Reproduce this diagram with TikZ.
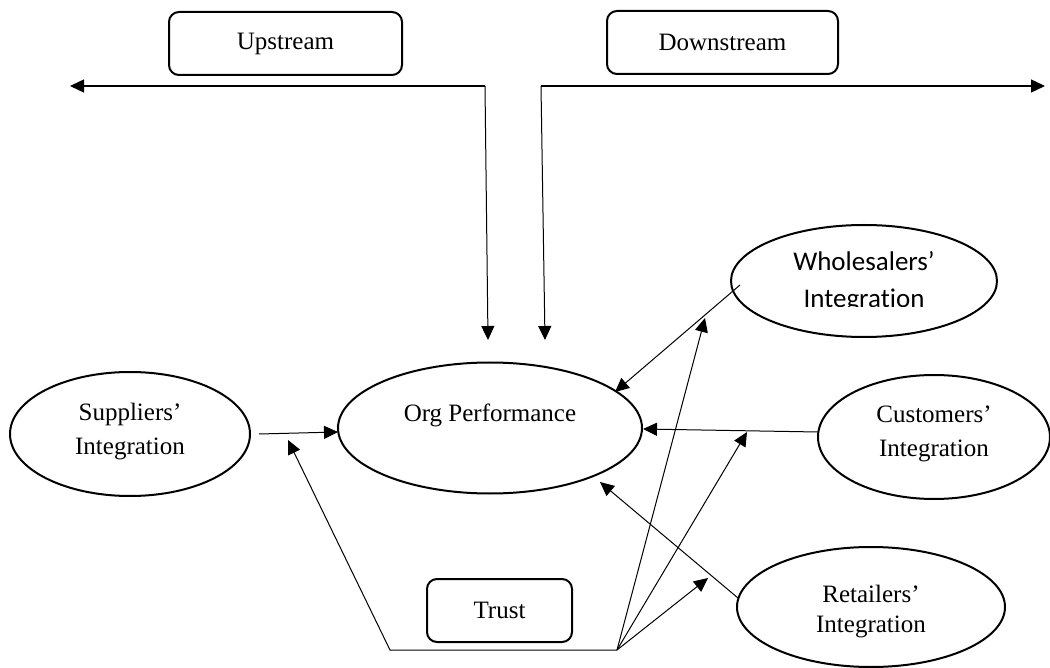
\documentclass[tikz,border=0pt]{standalone}
\usepackage{fontspec}
\setmainfont{Liberation Serif}
\newfontfamily\calfont[Ligatures={NoCommon}]{Carlito}
\usetikzlibrary{shapes.geometric,arrows.meta}
\begin{document}
\begin{tikzpicture}[x=1pt,y=-1pt,
  ell/.style={draw, ellipse, line width=2pt, inner sep=0pt},
  lbl/.style={align=center, font=\fontsize{25}{34}\selectfont, inner sep=0pt},
  rbox/.style={draw, rounded corners=10pt, line width=2pt, minimum height=63pt, font=\fontsize{25}{30}\selectfont},
  con/.style={line width=1pt},
  tip/.tip={Triangle[length=14pt,width=13pt]},
  arr/.style={con, -tip}]
\useasboundingbox (0,0) rectangle (1050,668);

% boxes
\node[rbox, minimum width=233pt] (up) at (285.5,43.5) {Upstream};
\node[rbox, minimum width=231pt] (down) at (722.5,42.5) {Downstream};
\node[rbox, minimum width=145pt] (trust) at (499.5,610.5) {Trust};

% ellipses
\node[ell, minimum width=240pt, minimum height=124pt] (sup) at (130,434) {};
\node[ell, minimum width=304pt, minimum height=131pt] (org) at (490,428) {};
\node[ell, minimum width=266pt, minimum height=112pt] (whole) at (864,281) {};
\node[ell, minimum width=232pt, minimum height=124pt] (cust) at (934,437) {};
\node[ell, minimum width=268pt, minimum height=120pt] (ret) at (871,607) {};

% labels
\node[lbl] (supt) at (130,432) {Suppliers'\\Integration};
\node[lbl] (orgt) at (490,415) {Org Performance};
\begin{scope}
  \clip (700,220) rectangle (1000,307);
  \node[lbl, font=\calfont\fontsize{27}{37}\selectfont] (wholet) at (864,282) {Wholesalers’\\Integration};
\end{scope}
\node[lbl] (custt) at (934,434) {Customers'\\Integration};
\node[lbl, font=\fontsize{25}{30}\selectfont] (rett) at (871,612) {Retailers'\\Integration};

% upstream / downstream
\coordinate (upL) at (70,86);
\coordinate (upC) at (485,86);
\coordinate (upB) at (488,340);
\coordinate (dnR) at (1045,86);
\coordinate (dnC) at (541,86);
\coordinate (dnB) at (545,340);
\draw[con, line width=1.4pt, tip-] (upL) -- (upC);
\draw[arr] (upC) -- (upB);
\draw[con, line width=1.4pt, -tip] (dnC) -- (dnR);
\draw[arr] (dnC) -- (dnB);

% into Org Performance
\coordinate (supS) at (259,434);
\coordinate (orgW) at (338,432);
\draw[arr] (supS) -- (orgW);
\coordinate (whS) at (740,285);
\coordinate (orgNE) at (615,392);
\draw[arr] (whS) -- (orgNE);
\coordinate (cuS) at (818,432);
\coordinate (orgE) at (643,429);
\draw[arr] (cuS) -- (orgE);
\coordinate (reS) at (738,598);
\coordinate (orgSE) at (600,482);
\draw[arr] (reS) -- (orgSE);

% trust
\coordinate (tA) at (617,650);
\coordinate (tB) at (390,650);
\coordinate (tSup) at (288,440);
\coordinate (tWh) at (705,318);
\coordinate (tCu) at (747,432);
\coordinate (tRe) at (708,578);
\draw[arr] (tA) -- (tB) -- (tSup);
\draw[arr] (tA) -- (tWh);
\draw[arr] (tA) -- (tCu);
\draw[arr] (tA) -- (tRe);
\end{tikzpicture}
\end{document}
